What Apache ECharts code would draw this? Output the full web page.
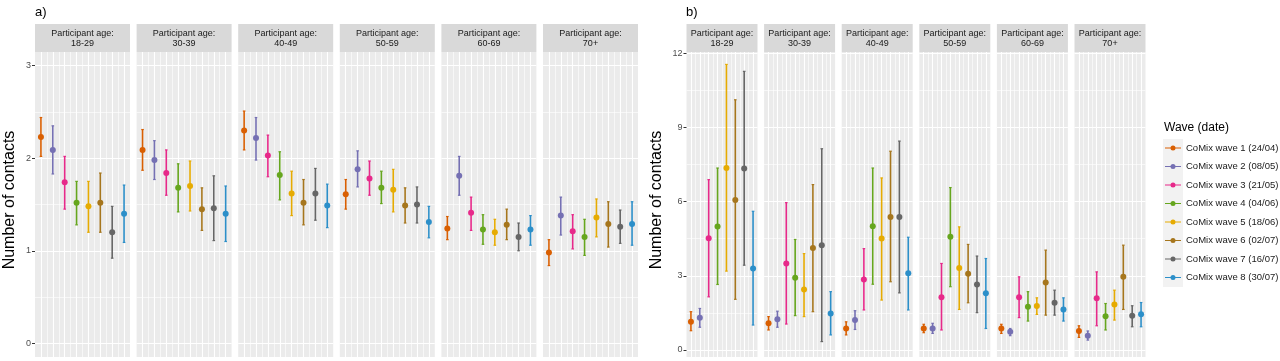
<!DOCTYPE html>
<html>
<head>
<meta charset="utf-8">
<script src="https://cdn.jsdelivr.net/npm/echarts@6/dist/echarts.min.js"></script>
<style>
  html, body { margin: 0; padding: 0; background: #fff; }
  #chart { width: 1280px; height: 361px; }
</style>
</head>
<body>
<div id="chart"></div>
<script>
  // facets and waves
  const ageGroups = ['18-29', '30-39', '40-49', '50-59', '60-69', '70+'];
  const waveNames = [
    'CoMix wave 1 (24/04)', 'CoMix wave 2 (08/05)', 'CoMix wave 3 (21/05)', 'CoMix wave 4 (04/06)',
    'CoMix wave 5 (18/06)', 'CoMix wave 6 (02/07)', 'CoMix wave 7 (16/07)', 'CoMix wave 8 (30/07)'
  ];
  const waveColors = ['#d95f02', '#7570b3', '#e7298a', '#66a61e', '#e6ab02', '#a6761d', '#666666', '#2c8fc9'];

  // panel a) one row per age group, one value per wave
  const meanA = [
    [2.23, 2.09, 1.74, 1.52, 1.48, 1.52, 1.20, 1.40],
    [2.09, 1.98, 1.84, 1.68, 1.70, 1.45, 1.46, 1.40],
    [2.30, 2.22, 2.03, 1.82, 1.62, 1.52, 1.62, 1.49],
    [1.61, 1.88, 1.78, 1.68, 1.66, 1.49, 1.50, 1.31],
    [1.24, 1.81, 1.41, 1.23, 1.20, 1.28, 1.15, 1.23],
    [0.98, 1.38, 1.21, 1.15, 1.36, 1.29, 1.26, 1.29]
  ];
  const lowA = [
    [2.02, 1.83, 1.45, 1.28, 1.20, 1.20, 0.92, 1.09],
    [1.87, 1.77, 1.60, 1.42, 1.43, 1.22, 1.11, 1.10],
    [2.09, 1.98, 1.80, 1.55, 1.38, 1.28, 1.33, 1.25],
    [1.45, 1.69, 1.60, 1.51, 1.42, 1.30, 1.30, 1.14],
    [1.12, 1.60, 1.22, 1.07, 1.06, 1.12, 1.00, 1.06],
    [0.84, 1.17, 1.02, 0.95, 1.15, 1.04, 1.08, 1.06]
  ];
  const highA = [
    [2.44, 2.35, 2.02, 1.75, 1.75, 1.84, 1.48, 1.71],
    [2.31, 2.19, 2.09, 1.94, 1.97, 1.68, 1.81, 1.70],
    [2.51, 2.44, 2.25, 2.07, 1.86, 1.77, 1.89, 1.72],
    [1.77, 2.08, 1.97, 1.86, 1.88, 1.68, 1.69, 1.48],
    [1.37, 2.02, 1.58, 1.39, 1.34, 1.45, 1.30, 1.38],
    [1.12, 1.58, 1.39, 1.34, 1.56, 1.53, 1.44, 1.53]
  ];
  const ticksA = [0, 1, 2, 3];

  // panel b)
  const meanB = [
    [1.14, 1.30, 4.52, 5.00, 7.36, 6.07, 7.34, 3.30],
    [1.08, 1.24, 3.50, 2.92, 2.45, 4.13, 4.24, 1.48],
    [0.87, 1.21, 2.85, 5.01, 4.51, 5.38, 5.38, 3.10],
    [0.87, 0.87, 2.13, 4.58, 3.32, 3.08, 2.65, 2.30],
    [0.87, 0.74, 2.13, 1.75, 1.78, 2.73, 1.91, 1.64],
    [0.77, 0.58, 2.09, 1.37, 1.84, 2.96, 1.39, 1.45]
  ];
  const lowB = [
    [0.78, 0.92, 2.15, 2.65, 3.19, 2.05, 3.43, 1.01],
    [0.81, 0.92, 1.05, 1.39, 1.35, 1.55, 0.34, 0.61],
    [0.61, 0.83, 1.62, 2.66, 2.02, 2.76, 2.31, 1.62],
    [0.70, 0.67, 0.81, 2.56, 1.64, 1.91, 1.51, 0.87],
    [0.67, 0.58, 1.31, 1.17, 1.44, 1.41, 1.41, 1.17],
    [0.51, 0.40, 0.98, 0.81, 1.21, 1.64, 0.94, 0.94]
  ];
  const highB = [
    [1.55, 1.68, 6.89, 7.36, 11.55, 10.12, 11.27, 5.61],
    [1.35, 1.57, 5.96, 4.47, 3.90, 6.69, 8.14, 2.36],
    [1.14, 1.59, 4.10, 7.36, 6.96, 8.04, 8.45, 4.56],
    [1.04, 1.08, 3.50, 6.57, 4.98, 4.27, 3.80, 3.70],
    [1.04, 0.87, 2.96, 2.36, 2.11, 4.04, 2.42, 2.11],
    [0.98, 0.77, 3.16, 1.88, 2.42, 4.24, 1.79, 1.92]
  ];
  const ticksB = [0, 3, 6, 9, 12];

  const FONT = 'Liberation Sans, Arial, sans-serif';
  const grids = [], xAxes = [], yAxes = [], series = [], graphics = [];

  // error bar + point, drawn through the axis coords
  function errorBarItem(params, api) {
    const x = api.value(0);
    const pt = api.coord([x, api.value(1)]);
    const lo = api.coord([x, api.value(2)]);
    const hi = api.coord([x, api.value(3)]);
    const c = api.visual('color');
    return {
      type: 'group',
      children: [
        { type: 'line', shape: { x1: lo[0], y1: lo[1], x2: hi[0], y2: hi[1] }, style: { stroke: c, lineWidth: 1.6 } },
        { type: 'line', shape: { x1: lo[0] - 1.3, y1: lo[1], x2: lo[0] + 1.3, y2: lo[1] }, style: { stroke: c, lineWidth: 1.2 } },
        { type: 'line', shape: { x1: hi[0] - 1.3, y1: hi[1], x2: hi[0] + 1.3, y2: hi[1] }, style: { stroke: c, lineWidth: 1.2 } },
        { type: 'circle', shape: { cx: pt[0], cy: pt[1], r: 3 }, style: { fill: c } }
      ]
    };
  }

  function addPanel(p) {
    ageGroups.forEach((age, f) => {
      const left = p.left0 + f * p.step;

      // grey panel + vertical grid lines
      const gBg = grids.length;
      grids.push({ left: left, top: 52, width: p.width, height: 305, show: true, backgroundColor: '#ebebeb', borderWidth: 0 });
      xAxes.push({
        gridIndex: gBg, type: 'value', min: 0.5, max: 8.5, interval: 1,
        axisLine: { show: false }, axisTick: { show: false }, axisLabel: { show: false },
        splitLine: { show: true, showMinLine: false, showMaxLine: false, lineStyle: { color: '#ffffff', width: 0.6 } },
        minorTick: { show: false, splitNumber: 2 },
        minorSplitLine: { show: true, lineStyle: { color: '#ffffff', width: 1.1 } }
      });
      yAxes.push({ gridIndex: gBg, type: 'value', min: 0, max: 1, show: false });

      // data grid: y scale + horizontal grid lines
      const gD = grids.length;
      grids.push({ left: left, top: p.dataTop, width: p.width, height: p.dataHeight, show: false });
      xAxes.push({ gridIndex: gD, type: 'value', min: 0.5, max: 8.5, show: false });
      yAxes.push({
        gridIndex: gD, type: 'value',
        min: p.ticks[0], max: p.ticks[p.ticks.length - 1], interval: p.ticks[1] - p.ticks[0],
        axisLine: { show: false },
        axisTick: { show: f === 0, length: 3, lineStyle: { color: '#333333', width: 1 } },
        axisLabel: { show: f === 0, fontSize: 9, color: '#4d4d4d', margin: 4, fontFamily: FONT },
        splitLine: { show: true, lineStyle: { color: '#ffffff', width: 1.1 } },
        minorTick: { show: false, splitNumber: 2 },
        minorSplitLine: { show: true, lineStyle: { color: '#ffffff', width: 0.6 } }
      });

      for (let w = 0; w < waveNames.length; w++) {
        series.push({
          type: 'custom',
          name: waveNames[w],
          xAxisIndex: gD,
          yAxisIndex: gD,
          itemStyle: { color: waveColors[w] },
          clip: false,
          data: [[w + 1, p.mean[f][w], p.low[f][w], p.high[f][w]]],
          renderItem: errorBarItem
        });
      }

      // facet strip
      graphics.push({ type: 'rect', shape: { x: left, y: 24, width: p.width, height: 28 }, style: { fill: '#d9d9d9' } });
      graphics.push({
        type: 'text', x: left + p.width / 2, y: 38.3,
        style: { text: 'Participant age:\n' + age, align: 'center', verticalAlign: 'middle', fontSize: 9, lineHeight: 10, fill: '#1a1a1a', fontFamily: FONT }
      });
    });

    graphics.push({ type: 'text', x: p.labelX, y: 12, style: { text: p.label, align: 'left', verticalAlign: 'middle', fontSize: 13, fill: '#000', fontFamily: FONT } });
    graphics.push({
      type: 'text', x: p.titleX, y: 200, rotation: Math.PI / 2,
      style: { text: 'Number of contacts', align: 'center', verticalAlign: 'middle', fontSize: 16, fill: '#000', fontFamily: FONT }
    });
  }

  addPanel({ left0: 35, step: 101.6, width: 95, dataTop: 65.7, dataHeight: 277.6, mean: meanA, low: lowA, high: highA, ticks: ticksA, label: 'a)', labelX: 35, titleX: 10 });
  addPanel({ left0: 686.5, step: 77.6, width: 71, dataTop: 53.3, dataHeight: 296.7, mean: meanB, low: lowB, high: highB, ticks: ticksB, label: 'b)', labelX: 686, titleX: 657 });

  // legend title + key background
  graphics.push({ type: 'rect', z: -1, shape: { x: 1163, y: 139, width: 20, height: 148 }, style: { fill: '#f2f2f2' } });
  graphics.push({ type: 'text', x: 1164, y: 128, style: { text: 'Wave (date)', align: 'left', verticalAlign: 'middle', fontSize: 12, fill: '#000', fontFamily: FONT } });

  const chart = echarts.init(document.getElementById('chart'));
  chart.setOption({
    animation: false,
    textStyle: { fontFamily: FONT },
    grid: grids,
    xAxis: xAxes,
    yAxis: yAxes,
    legend: {
      data: waveNames,
      orient: 'vertical',
      left: 1165,
      top: 143,
      padding: 0,
      itemWidth: 16,
      itemHeight: 5,
      itemGap: 8.5,
      itemTextGap: 7,
      icon: 'path://M0,2 L16,2 L16,3 L0,3 Z M5.5,2.5 A2.5,2.5 0 1 1 10.5,2.5 A2.5,2.5 0 1 1 5.5,2.5 Z',
      textStyle: { fontSize: 9.5, color: '#1a1a1a', fontFamily: FONT }
    },
    graphic: graphics,
    series: series
  });
</script>
</body>
</html>
